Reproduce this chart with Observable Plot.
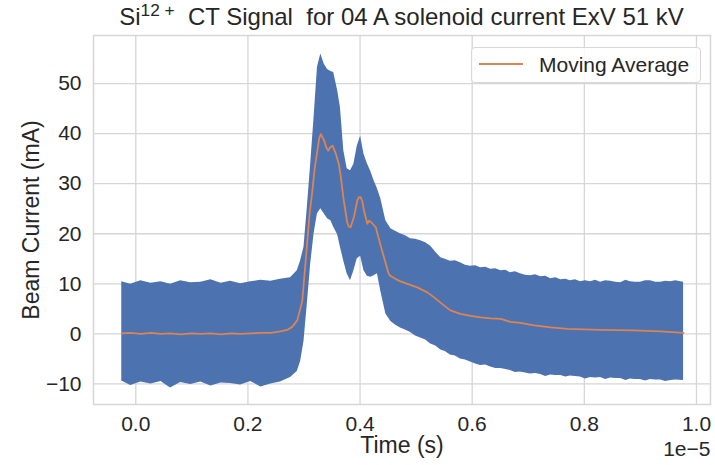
<!DOCTYPE html>
<html>
<head>
<meta charset="utf-8">
<script src="https://cdn.jsdelivr.net/npm/d3@7"></script>
<script src="https://cdn.jsdelivr.net/npm/@observablehq/plot@0.6"></script>
<style>
  html, body { margin: 0; padding: 0; background: #fff; }
  #wrap { position: relative; width: 715px; height: 465px; font-family: "Liberation Sans", Arial, sans-serif; color: #262626; }
  #title { position: absolute; left: 93px; width: 617px; top: 5px; text-align: center; font-size: 24px; line-height: 1; white-space: pre; }
  #title sup { font-size: 0.72em; line-height: 0; vertical-align: 0.55em; }
  #ylabel { position: absolute; left: 31px; top: 220px; transform: translate(-50%, -50%) rotate(-90deg); font-size: 23px; line-height: 1; white-space: nowrap; }
  #legend { position: absolute; left: 471px; top: 47px; width: 228px; height: 34px; border: 1px solid #d8d8d8; border-radius: 4px; background: rgba(255,255,255,0.85); }
  #legend .sw { position: absolute; left: 7px; top: 15px; width: 44px; height: 2px; background: #dd8452; }
  #legend .lb { position: absolute; left: 67px; top: 5px; font-size: 21px; line-height: 1.1; white-space: nowrap; }
</style>
</head>
<body>
<div id="wrap">
  <div id="chart"></div>
  <div id="title">Si<sup>12 +</sup>  CT Signal  for 04 A solenoid current ExV 51 kV</div>
  <div id="ylabel">Beam Current (mA)</div>
  <div id="legend"><div class="sw"></div><div class="lb">Moving Average</div></div>
</div>
<script>
// Time in units of 1e-5 s
const bandT = [-0.025,-0.009,0.009,0.027,0.045,0.062,0.080,0.098,0.116,0.134,0.152,0.169,0.187,0.205,0.223,0.241,0.258,0.276,0.288,0.294,0.300,0.306,0.312,0.318,0.324,0.330,0.336,0.342,0.348,0.353,0.360,0.365,0.371,0.377,0.383,0.389,0.395,0.401,0.407,0.413,0.419,0.425,0.431,0.437,0.446,0.455,0.463,0.472,0.481,0.490,0.499,0.508,0.517,0.526,0.535,0.544,0.552,0.561,0.570,0.579,0.588,0.597,0.606,0.615,0.624,0.633,0.642,0.651,0.660,0.668,0.677,0.686,0.695,0.704,0.713,0.722,0.731,0.740,0.749,0.758,0.767,0.775,0.784,0.793,0.802,0.811,0.820,0.829,0.838,0.847,0.856,0.865,0.874,0.882,0.891,0.900,0.909,0.918,0.927,0.936,0.945,0.954,0.963,0.977];
const bandHigh = [10.4,9.9,10.6,10.1,10.4,9.9,10.6,10.2,10.3,10.8,10.1,10.5,10.0,10.4,10.7,10.5,10.9,11.2,12.6,14.6,17.3,25.3,34.0,43.2,53.2,55.9,53.9,52.8,52.4,52.2,48.6,45.2,36.6,33.0,32.6,33.9,37.5,39.5,35.9,34.0,32.5,30.6,29.0,27.0,22.6,21.0,20.5,20.0,19.6,19.0,18.9,18.6,18.2,17.5,16.3,15.2,14.9,14.5,14.6,14.2,13.7,13.5,13.6,13.2,13.3,12.9,13.0,12.6,12.7,12.2,12.4,12.0,11.7,11.6,11.8,11.4,11.5,11.0,11.2,10.8,10.9,10.6,10.8,10.4,10.6,10.4,10.7,10.3,10.6,10.5,10.3,10.2,10.7,10.4,10.3,10.3,10.6,10.6,10.3,10.3,10.5,10.4,10.6,10.3];
const bandLow = [-9.4,-10.3,-9.6,-10.0,-9.5,-10.8,-9.7,-10.1,-9.6,-10.4,-9.8,-9.9,-10.2,-9.5,-10.6,-10.0,-9.6,-8.7,-7.5,-5.5,-1.5,6.0,14.0,20.0,24.0,25.0,24.0,23.0,22.6,21.3,19.8,17.3,14.5,12.0,10.6,12.6,15.0,15.5,12.6,11.5,11.3,11.6,12.0,8.5,4.0,2.5,1.8,1.2,0.8,0.3,-0.4,-0.8,-1.2,-2.0,-2.4,-3.2,-3.5,-4.2,-4.4,-5.0,-5.2,-5.6,-6.0,-6.3,-6.2,-6.6,-6.9,-6.9,-7.1,-7.3,-7.7,-7.6,-7.8,-8.0,-7.9,-8.1,-8.5,-8.2,-8.3,-8.3,-8.6,-8.4,-8.5,-8.6,-9.0,-8.7,-8.8,-8.7,-9.1,-8.8,-8.9,-8.9,-9.3,-9.0,-9.1,-9.1,-9.4,-9.1,-9.2,-9.2,-9.5,-9.3,-9.2,-9.3];
const maT = [-0.025,-0.009,0.009,0.027,0.045,0.062,0.080,0.098,0.116,0.134,0.152,0.169,0.187,0.205,0.223,0.241,0.258,0.270,0.279,0.288,0.297,0.301,0.306,0.310,0.315,0.319,0.324,0.327,0.330,0.332,0.336,0.340,0.343,0.347,0.351,0.357,0.362,0.365,0.371,0.377,0.380,0.383,0.389,0.395,0.398,0.401,0.404,0.407,0.413,0.416,0.419,0.428,0.437,0.446,0.451,0.455,0.463,0.472,0.487,0.502,0.520,0.532,0.544,0.561,0.579,0.597,0.615,0.633,0.651,0.668,0.686,0.710,0.740,0.770,0.829,0.888,0.936,0.977];
const maV = [0.1,0.2,0.0,0.2,0.0,0.1,-0.1,0.1,0.0,0.1,-0.1,0.1,0.0,0.1,0.2,0.2,0.5,0.8,1.4,2.7,6.6,12.0,18.6,24.0,28.6,33.0,36.6,39.0,39.9,39.5,38.6,37.2,36.6,37.3,37.6,35.9,34.0,31.9,26.6,22.3,21.4,21.3,23.3,26.6,27.3,27.3,26.5,24.6,22.0,22.6,22.4,21.3,17.5,14.0,12.0,11.5,11.0,10.5,9.9,9.3,8.3,7.3,6.2,4.7,4.0,3.6,3.3,3.1,3.0,2.4,2.2,1.7,1.3,1.0,0.8,0.7,0.5,0.2];
const xTicks = [0, 0.2, 0.4, 0.6, 0.8, 1.0];
const yTicks = [-10, 0, 10, 20, 30, 40, 50];

const band = bandT.map((t, i) => ({t, hi: bandHigh[i], lo: bandLow[i]}));
const ma = maT.map((t, i) => ({t, v: maV[i]}));
const gridColor = "#d6d6d6";
const fmtY = d => d < 0 ? "\u2212" + Math.abs(d) : String(d);

const chart = Plot.plot({
  width: 715,
  height: 465,
  marginLeft: 93,
  marginRight: 5,
  marginTop: 35,
  marginBottom: 61,
  style: {fontFamily: '"Liberation Sans", Arial, sans-serif', fontSize: "21px", color: "#262626", background: "white"},
  x: {domain: [-0.0754, 1.025]},
  y: {domain: [-14.1, 59.6]},
  marks: [
    Plot.gridX(xTicks, {stroke: gridColor, strokeOpacity: 1, strokeWidth: 1.3}),
    Plot.gridY(yTicks, {stroke: gridColor, strokeOpacity: 1, strokeWidth: 1.3}),
    Plot.frame({stroke: gridColor, strokeWidth: 1.5}),
    Plot.areaY(band, {x: "t", y1: "lo", y2: "hi", fill: "#4c72b0"}),
    Plot.line(ma, {x: "t", y: "v", stroke: "#dd8452", strokeWidth: 1.8}),
    Plot.axisX(xTicks, {tickSize: 0, tickPadding: 12, tickFormat: d3.format(".1f"), label: null, fontSize: 21}),
    Plot.axisY(yTicks, {tickSize: 0, tickPadding: 12, tickFormat: fmtY, label: null, fontSize: 21}),
    Plot.text(["Time (s)"], {frameAnchor: "bottom", lineAnchor: "top", dy: 32, fontSize: 23, fill: "#262626"}),
    Plot.text(["1e\u22125"], {frameAnchor: "bottom-right", textAnchor: "end", lineAnchor: "top", dy: 37, fontSize: 21, fill: "#262626"})
  ]
});
document.getElementById("chart").appendChild(chart);
</script>
</body>
</html>
